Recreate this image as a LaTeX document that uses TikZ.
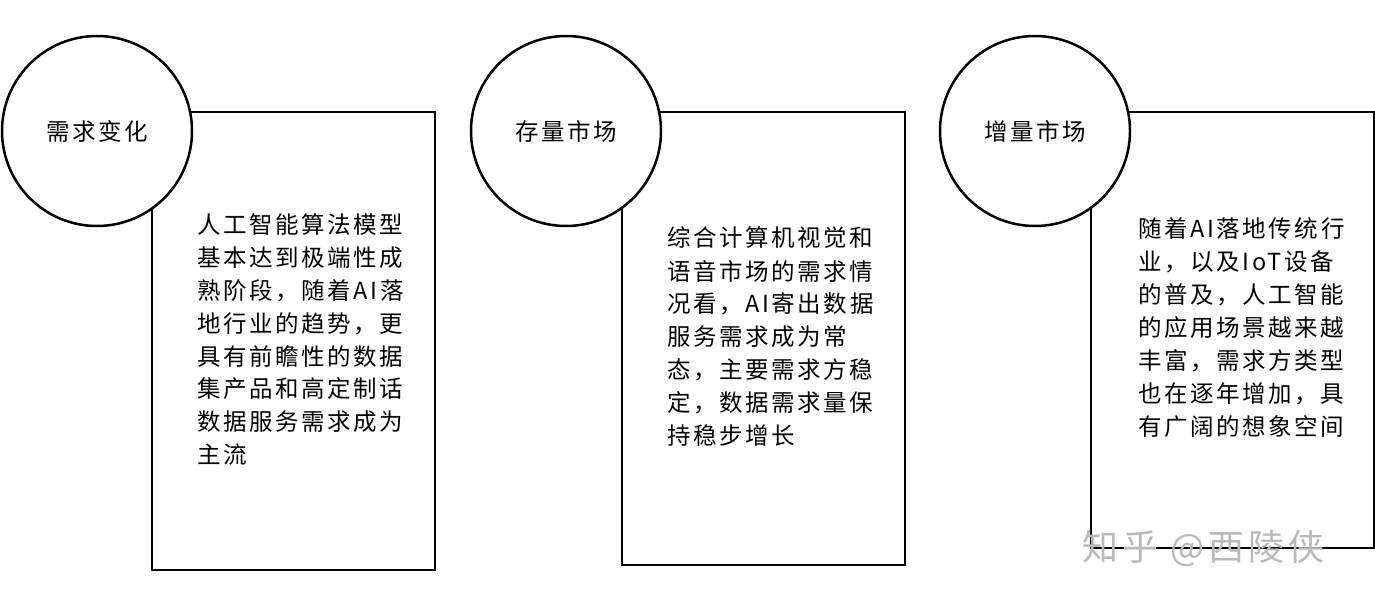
\documentclass[tikz,border=0pt]{standalone}
\usepackage{fontspec}
\newfontfamily\cjk[LetterSpace=11]{Noto Sans CJK SC}
\begin{document}
\begin{tikzpicture}[x=1pt,y=-1pt,
  box/.style={draw=black,line width=2.5pt,fill=white},
  circ/.style={draw=black,line width=2.5pt,fill=white,circle,minimum size=190pt,inner sep=0pt,font=\cjk\fontsize{23.5}{26}\selectfont},
  txt/.style={anchor=west,inner sep=0pt,font=\cjk\fontsize{23.5}{26}\selectfont}]
\useasboundingbox (0,0) rectangle (1375,602);
\fill[white] (0,0) rectangle (1375,602);
\foreach \bx/\by/\cx/\tx/\ty/\name/\lab in {
  152/570/97/197/225/p1/需求变化,
  622/565/566/667/238/p2/存量市场,
  1091/548/1035/1138/229/p3/增量市场}{
  \draw[box] (\bx,112) rectangle (\bx+283,\by);
  \node[circ] (\name) at (\cx,131) {\lab};
}
\foreach \t [count=\i from 0] in {人工智能算法模型,基本达到极端性成,熟阶段，随着AI落,地行业的趋势，更,具有前瞻性的数据,集产品和高定制话,数据服务需求成为,主流}
  \node[txt] (a\i) at (197,225+32.8*\i) {\t};
\foreach \t [count=\i from 0] in {综合计算机视觉和,语音市场的需求情,况看，AI寄出数据,服务需求成为常,态，主要需求方稳,定，数据需求量保,持稳步增长}
  \node[txt] (b\i) at (667,238+33*\i) {\t};
\foreach \t [count=\i from 0] in {随着AI落地传统行,业，以及IoT设备,的普及，人工智能,的应用场景越来越,丰富，需求方类型,也在逐年增加，具,有广阔的想象空间}
  \node[txt] (c\i) at (1138,229+33*\i) {\t};
\node[anchor=west,inner sep=0pt,text=gray!55,font=\cjk\fontsize{36}{38}\selectfont] (wm) at (1082,548) {知乎 @西陵侠};
\end{tikzpicture}
\end{document}
